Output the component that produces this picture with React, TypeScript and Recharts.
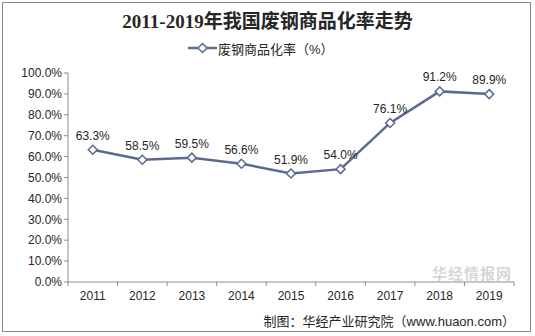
import React from "react";
import { LineChart, Line, XAxis, YAxis, LabelList } from "recharts";

const years = ["2011", "2012", "2013", "2014", "2015", "2016", "2017", "2018", "2019"];
const rates = [63.3, 58.5, 59.5, 56.6, 51.9, 54.0, 76.1, 91.2, 89.9];
const yTicks = [0, 10, 20, 30, 40, 50, 60, 70, 80, 90, 100];
const title = "2011-2019年我国废钢商品化率走势";
const seriesName = "废钢商品化率（%）";
const source = "制图：华经产业研究院（www.huaon.com）";

const data = years.map((y, i) => ({ year: y, rate: rates[i] }));

const LINE = "#5B6994";
const AXIS = "#8C8C8C";
const FONT = "Arial, 'Liberation Sans', 'Noto Sans CJK SC', sans-serif";

const Diamond = (props: any) => {
  const { cx, cy } = props;
  if (cx == null || cy == null) return null;
  const r = 4.5;
  return (
    <path
      d={`M${cx},${cy - r}L${cx + r},${cy}L${cx},${cy + r}L${cx - r},${cy}Z`}
      fill="#fff"
      stroke={LINE}
      strokeWidth={1.5}
    />
  );
};

const XTick = (props: any) => {
  const { x, y, payload, index } = props;
  const off = payload.offset || 0;
  return (
    <g>
      <line x1={x - off} y1={y - 8} x2={x - off} y2={y - 4} stroke={AXIS} />
      {index === years.length - 1 && (
        <line x1={x + off} y1={y - 8} x2={x + off} y2={y - 4} stroke={AXIS} />
      )}
      <text x={x} y={y + 10} textAnchor="middle" fontSize={12} fill="#262626" fontFamily={FONT}>
        {payload.value}
      </text>
    </g>
  );
};

export default function App() {
  return (
    <div style={{ position: "absolute", left: 0, top: 0, width: 535, height: 336, background: "#fff" }}>
      <div
        style={{
          position: "absolute",
          left: 2,
          top: 2,
          width: 529,
          height: 330,
          border: "1px solid #8a8a8a",
          boxSizing: "border-box",
        }}
      />
      <div
        style={{
          position: "absolute",
          left: 0,
          top: 10,
          width: 535,
          textAlign: "center",
          fontFamily: "'Liberation Serif', 'Noto Sans CJK SC', serif",
          fontWeight: "bold",
          fontSize: 19,
          color: "#262626",
          lineHeight: "24px",
        }}
      >
        {title}
      </div>
      <div
        style={{
          position: "absolute",
          left: 188,
          top: 39,
          height: 18,
          display: "flex",
          alignItems: "center",
          fontFamily: FONT,
          fontSize: 13,
          color: "#262626",
        }}
      >
        <svg width={30} height={12}>
          <line x1={0} y1={6} x2={29} y2={6} stroke={LINE} strokeWidth={2.5} />
          <Diamond cx={14.5} cy={6} />
        </svg>
        <span>{seriesName}</span>
      </div>
      <div
        style={{
          position: "absolute",
          left: 432,
          top: 262,
          fontFamily: FONT,
          fontSize: 15,
          fontWeight: "bold",
          color: "rgba(150,150,150,0.4)",
          letterSpacing: 1,
        }}
      >
        华经情报网
      </div>
      <div style={{ position: "absolute", left: 0, top: 0 }}>
        <LineChart
          width={535}
          height={336}
          data={data}
          margin={{ top: 73, right: 21, bottom: 24, left: 8 }}
        >
          <XAxis
            dataKey="year"
            height={30}
            scale="band"
            stroke={AXIS}
            tickLine={false}
            tick={<XTick />}
            interval={0}
          />
          <YAxis
            width={60}
            domain={[0, 100]}
            ticks={yTicks}
            interval={0}
            stroke={AXIS}
            tickSize={4}
            tickFormatter={(v: number) => `${v.toFixed(1)}%`}
            tick={{ fontSize: 12, fill: "#262626", fontFamily: FONT }}
          />
          <Line
            type="linear"
            dataKey="rate"
            stroke={LINE}
            strokeWidth={2.5}
            dot={<Diamond />}
            activeDot={false}
            isAnimationActive={false}
          >
            <LabelList
              dataKey="rate"
              position="top"
              offset={10}
              formatter={(v: number) => `${v.toFixed(1)}%`}
              style={{ fontSize: 12, fill: "#262626", fontFamily: FONT }}
            />
          </Line>
        </LineChart>
      </div>
      <div
        style={{
          position: "absolute",
          right: 20,
          top: 311,
          fontFamily: FONT,
          fontSize: 13,
          color: "#262626",
          whiteSpace: "nowrap",
        }}
      >
        {source}
      </div>
    </div>
  );
}
